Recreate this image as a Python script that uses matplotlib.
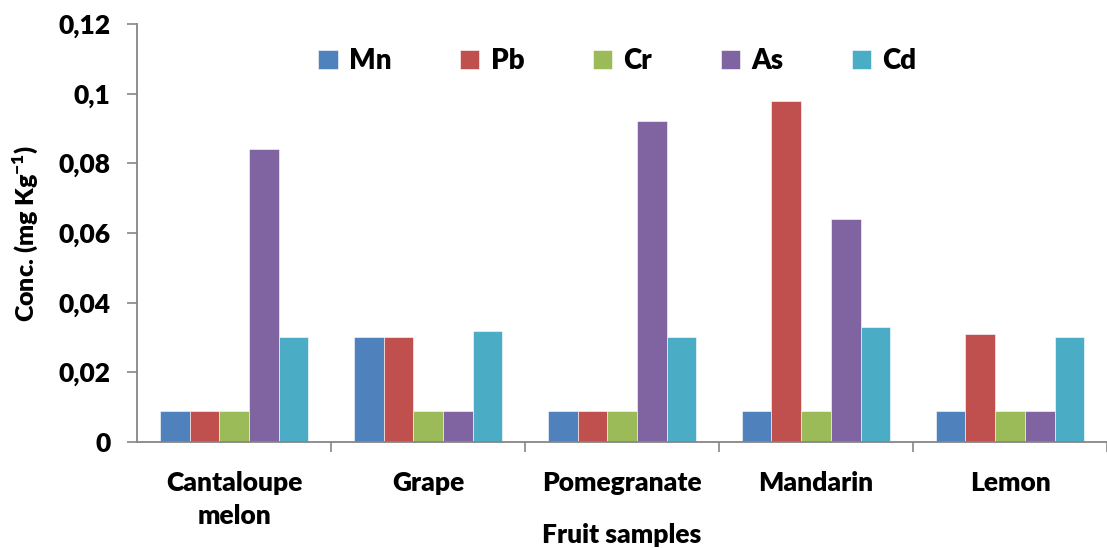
import matplotlib
matplotlib.use("Agg")
import matplotlib.pyplot as plt
import numpy as np

# heavy metal concentration per fruit (mg/kg)
fruits = ["Cantaloupe\nmelon", "Grape", "Pomegranate", "Mandarin", "Lemon"]
metals = ["Mn", "Pb", "Cr", "As", "Cd"]
mn = [0.009, 0.030, 0.009, 0.009, 0.009]
pb = [0.009, 0.030, 0.009, 0.098, 0.031]
cr = [0.009, 0.009, 0.009, 0.009, 0.009]
as_ = [0.084, 0.009, 0.092, 0.064, 0.009]
cd = [0.030, 0.032, 0.030, 0.033, 0.030]
yticks = [0, 0.02, 0.04, 0.06, 0.08, 0.1, 0.12]
ytick_labels = ["0", "0,02", "0,04", "0,06", "0,08", "0,1", "0,12"]

colors = ["#4F81BD", "#C0504D", "#9BBB59", "#8064A2", "#4BACC6"]
series = [mn, pb, cr, as_, cd]

wt = 'heavy'
plt.rcParams['font.family'] = ['Lato', 'DejaVu Sans']
plt.rcParams['font.weight'] = wt
plt.rcParams['mathtext.fontset'] = 'custom'
plt.rcParams['mathtext.rm'] = 'Lato:heavy'

fig = plt.figure(figsize=(11.07, 5.48), dpi=100)
ax = fig.add_axes([0.1238, 0.1934, 0.8762, 0.763])

x = np.arange(len(fruits))
w = 0.153
for i, (vals, c, name) in enumerate(zip(series, colors, metals)):
    ax.bar(x + (i - 2) * w, vals, width=w, color=c, label=name,
           edgecolor='white', linewidth=0.4)

ax.set_xlim(-0.5, 4.449)
ax.set_ylim(0, 0.12)
ax.set_yticks(yticks)
ax.set_yticklabels(ytick_labels, fontsize=19, fontweight=wt)

# boundary ticks between groups, labels at group centres
ax.set_xticks(np.arange(len(fruits)) + 0.5)
ax.set_xticklabels([])
ax.set_xticks(x, minor=True)
ax.set_xticklabels(fruits, minor=True, fontsize=19, fontweight=wt,
                   linespacing=1.45, va='top')
ax.tick_params(axis='x', which='minor', length=0, pad=21)
ax.tick_params(axis='x', which='major', length=7, color='#868686', width=1.2)
ax.tick_params(axis='y', length=7, color='#868686', width=1.2, pad=12)

for s in ['top', 'right']:
    ax.spines[s].set_visible(False)
for s in ['left', 'bottom']:
    ax.spines[s].set_color('#868686')
    ax.spines[s].set_linewidth(1.3)

ax.set_ylabel("Conc. (mg Kg$^{\\mathrm{-1}}$)", fontsize=18, fontweight=wt,
              labelpad=13)
ax.set_xlabel("Fruit samples", fontsize=19, fontweight=wt)
ax.xaxis.set_label_coords(0.5, -0.193)

ax.legend(ncol=5, frameon=False, loc='upper left', bbox_to_anchor=(0.161, 1.002),
          prop={'size': 20, 'weight': wt}, handlelength=0.7,
          handleheight=0.7, handletextpad=0.4, columnspacing=2.47)

fig.savefig("out.png", dpi=100)
